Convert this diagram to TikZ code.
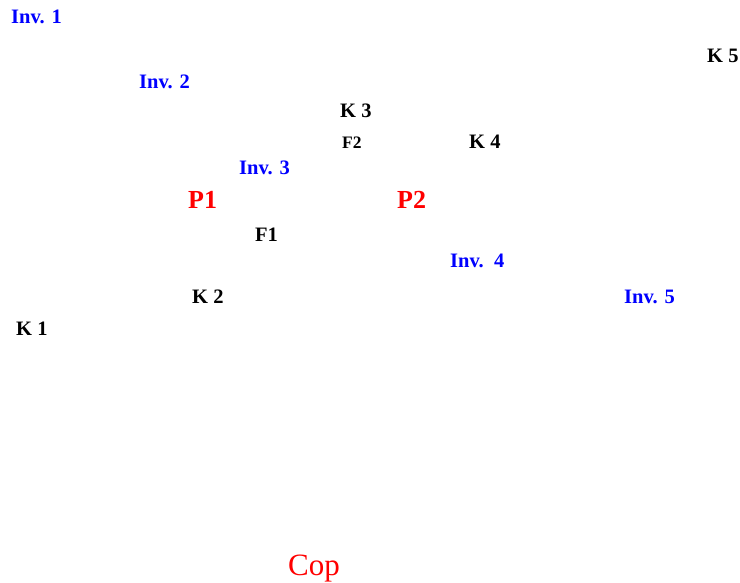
\documentclass[tikz,border=0pt]{standalone}
\usepackage{fontspec}
\setmainfont{Liberation Serif}
\usetikzlibrary{positioning}
\tikzset{
  label/.style={
    anchor = base west,
    inner sep = 0pt,
    font = \fontsize{20.5}{24}\selectfont\bfseries
  },
  inv/.style={
    label,
    text = blue
  },
  kpt/.style={
    label,
    text = black
  },
  fpt/.style={
    label,
    text = black
  },
  ppt/.style={
    label,
    text = red,
    font = \fontsize{26}{30}\selectfont\bfseries
  },
  cop/.style={
    anchor = base west,
    inner sep = 0pt,
    text = red,
    font = \fontsize{31}{36}\selectfont
  }
}

\begin{document}
\begin{tikzpicture}[x=1pt,y=-1pt]
    \useasboundingbox (0,0) rectangle (740,583);

    \node[inv] (inv1) at (11,24) {Inv. 1};
    \node[inv] (inv2) at (139,89) {Inv. 2};
    \node[inv] (inv3) at (239,175) {Inv. 3};
    \node[inv] (inv4) at (450,268) {Inv.\ \ 4};
    \node[inv] (inv5) at (624,303) {Inv. 5};

    \node[kpt] (k1) at (16,335) {K 1};
    \node[kpt] (k2) at (192,303) {K 2};
    \node[kpt] (k3) at (340,118) {K 3};
    \node[kpt] (k4) at (469,149) {K 4};
    \node[kpt] (k5) at (707,63) {K 5};

    \node[fpt] (f1) at (255,242) {F1};
    \node[fpt, font=\fontsize{17.5}{21}\selectfont\bfseries] (f2) at (342,149) {F2};

    \node[ppt] (p1) at (188,209) {P1};
    \node[ppt] (p2) at (397,209) {P2};

    \node[cop] (cop) at (288,575) {Cop};
\end{tikzpicture}
\end{document}
